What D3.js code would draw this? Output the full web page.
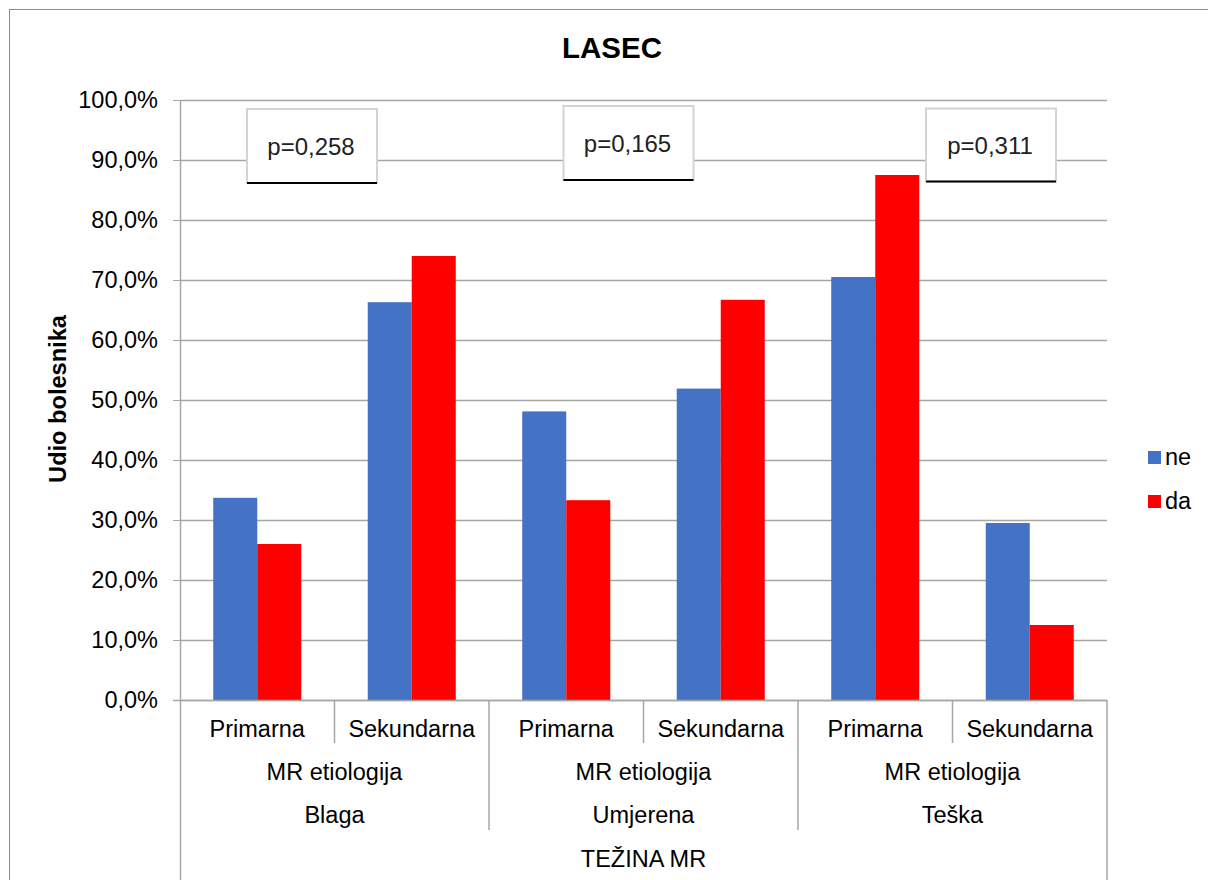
<!DOCTYPE html>
<html><head><meta charset="utf-8">
<script src="https://cdn.jsdelivr.net/npm/d3@7"></script>
<style>body{margin:0;background:#fff}svg{display:block;font-family:"Liberation Sans",Arial,sans-serif}</style>
</head><body><svg id="c" width="1208" height="880"></svg>
<script>
const severities = ["Blaga","Umjerena","Teška"];
const etiologies = ["Primarna","Sekundarna"];
const seriesNames = ["ne","da"];
const neValues = [33.7, 66.3, 48.1, 51.9, 70.5, 29.5];
const daValues = [26.0, 74.0, 33.3, 66.7, 87.5, 12.5];
const pValues = ["p=0,258","p=0,165","p=0,311"];
const yTicks = [0,10,20,30,40,50,60,70,80,90,100];
const colors = {ne:"#4472C4", da:"#FF0000"};

const svg = d3.select("#c");
const L=180, R=1107, T=100, B=700;
const keys = [];
severities.forEach(s=>etiologies.forEach(e=>keys.push(s+"|"+e)));
const x0 = d3.scaleBand().domain(keys).range([L,R]);
const x1 = d3.scaleBand().domain(seriesNames).range([0,x0.bandwidth()]).paddingOuter(0.755);
const y = d3.scaleLinear().domain([0,100]).range([B,T]);
const gridCol="#a6a6a6";

// outer border
svg.append("rect").attr("x",9.5).attr("y",9.5).attr("width",1230).attr("height",900)
  .attr("fill","none").attr("stroke","#8c8c8c").attr("stroke-width",1);

// title
svg.append("text").attr("x",612).attr("y",58).attr("text-anchor","middle")
  .attr("font-size",29.5).attr("font-weight","bold").text("LASEC");

// y axis
const yAxis = d3.axisLeft(y).tickValues(yTicks).tickSize(7).tickPadding(15)
  .tickFormat(d=>d.toFixed(1).replace(".",",")+"%");
const ga = svg.append("g").attr("transform",`translate(${L},0)`).call(yAxis);
ga.select(".domain").remove();
ga.selectAll(".tick line").attr("stroke",gridCol).attr("x2",-7);
ga.selectAll(".tick text").attr("font-size",23.5).attr("fill","#000").attr("font-family","Liberation Sans, Arial, sans-serif");
// gridlines
svg.append("g").selectAll("line").data(yTicks).join("line")
  .attr("x1",L).attr("x2",R).attr("y1",d=>Math.round(y(d))+0.5).attr("y2",d=>Math.round(y(d))+0.5)
  .attr("stroke",gridCol).attr("stroke-width",1.3);
ga.selectAll(".tick").attr("transform",d=>`translate(0,${Math.round(y(d))+0.5})`);

// y label
svg.append("text").attr("transform","translate(66,399) rotate(-90)").attr("text-anchor","middle")
  .attr("font-size",23.6).attr("font-weight","bold").text("Udio bolesnika");

// bars
const rows = keys.map((k,i)=>({key:k, ne:neValues[i], da:daValues[i]}));
const gb = svg.append("g");
rows.forEach(r=>{
  seriesNames.forEach(s=>{
    gb.append("rect").attr("x",x0(r.key)+x1(s)).attr("width",x1.bandwidth())
      .attr("y",y(r[s])).attr("height",y(0)-y(r[s])).attr("fill",colors[s]);
  });
});

// vertical axis line and category separators
svg.append("line").attr("x1",L+0.5).attr("x2",L+0.5).attr("y1",T).attr("y2",880).attr("stroke",gridCol).attr("stroke-width",1.5);
svg.append("line").attr("x1",R).attr("x2",R).attr("y1",B).attr("y2",880).attr("stroke",gridCol).attr("stroke-width",1.5);
svg.append("line").attr("x1",L-7).attr("x2",R).attr("y1",B+0.5).attr("y2",B+0.5).attr("stroke",gridCol).attr("stroke-width",1.5);
keys.forEach((k,i)=>{
  if(i===0) return;
  const xx = x0(k);
  const yEnd = (i%2===0) ? 830 : 743;
  svg.append("line").attr("x1",xx).attr("x2",xx).attr("y1",B).attr("y2",yEnd).attr("stroke",gridCol).attr("stroke-width",1.5);
});

// category labels
const fs=23.5;
keys.forEach(k=>{
  svg.append("text").attr("x",x0(k)+x0.bandwidth()/2).attr("y",737).attr("text-anchor","middle")
    .attr("font-size",fs).text(k.split("|")[1]);
});
severities.forEach((s,i)=>{
  const cx = x0(s+"|"+etiologies[0])+x0.bandwidth();
  svg.append("text").attr("x",cx).attr("y",780).attr("text-anchor","middle").attr("font-size",fs).text("MR etiologija");
  svg.append("text").attr("x",cx).attr("y",823).attr("text-anchor","middle").attr("font-size",fs).text(s);
});
svg.append("text").attr("x",(L+R)/2).attr("y",866.5).attr("text-anchor","middle").attr("font-size",fs).text("TEŽINA MR");

// p-value boxes
const boxes = [{x:247,y:109,w:130,h:74},{x:563.5,y:106,w:130,h:74},{x:926,y:108.5,w:130,h:73}];
boxes.forEach((b,i)=>{
  const g = svg.append("g");
  g.append("rect").attr("x",b.x).attr("y",b.y).attr("width",b.w).attr("height",b.h)
    .attr("fill","#fff").attr("stroke","#d4d4d4").attr("stroke-width",2);
  g.append("line").attr("x1",b.x).attr("x2",b.x+b.w).attr("y1",b.y+b.h).attr("y2",b.y+b.h)
    .attr("stroke","#000").attr("stroke-width",2.2);
  g.append("text").attr("x",b.x+b.w/2-1).attr("y",b.y+b.h/2+8.5).attr("text-anchor","middle")
    .attr("font-size",24).attr("fill","#222").text(pValues[i]);
});

// legend
seriesNames.forEach((s,i)=>{
  const ly = 451 + i*44;
  svg.append("rect").attr("x",1148).attr("y",ly).attr("width",13).attr("height",13).attr("fill",colors[s]);
  svg.append("text").attr("x",1165).attr("y",ly+14).attr("font-size",23.5).text(s);
});
</script></body></html>
